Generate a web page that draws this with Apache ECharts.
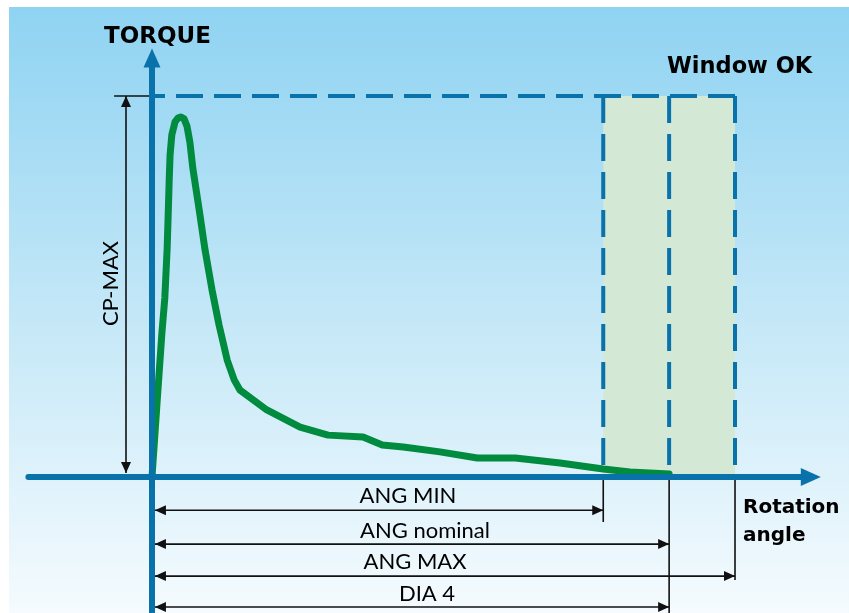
<!DOCTYPE html>
<html><head><meta charset="utf-8">
<script src="https://cdn.jsdelivr.net/npm/echarts@6/dist/echarts.min.js"></script>
<style>html,body{margin:0;padding:0;background:#fff}#c{width:849px;height:613px}</style>
</head><body><div id="c"></div>
<script>
// ---- data (x: rotation angle, ANG MAX = 100; y: torque, CP-MAX = 100) ----
const curveAngle  = [0, 0.9, 1.7, 2.2, 2.6, 2.8, 2.95, 3.1, 3.4, 3.95, 4.45, 4.95, 5.5, 6.0, 6.5, 7.0, 8.1, 9.1, 10.3, 11.5, 12.9, 14.1, 15.1, 19.7, 25.4, 30.2, 36.2, 39.5, 43.1, 49.4, 55.8, 62.3, 70.0, 77.4, 82.0, 88.7];
const curveTorque = [0, 20.2, 37.8, 47.0, 60.0, 70.0, 78.0, 84.5, 89.8, 93.2, 94.2, 94.5, 94.0, 92.1, 87.9, 81.1, 70.1, 59.6, 49.1, 39.9, 30.7, 25.5, 22.8, 17.6, 13.1, 11.0, 10.5, 8.4, 7.9, 6.6, 5.0, 5.0, 3.7, 2.1, 1.3, 0.8];
const angMin = 77.4;
const angNominal = 88.7;
const angMax = 100;
const dia4 = 88.7;
const cpMax = 100;
const dimLabels = ['ANG MIN', 'ANG nominal', 'ANG MAX', 'DIA 4'];

// ---- layout constants ----
const BLUE = '#0a72aa', GREEN = '#008b3e', BLACK = '#111';
const rowY = [-8.7, -17.6, -26.0, -34.1];   // dimension rows below the axis (in y units)
const cpArrowX = -4.46, cpTickX = -6.5;

const chart = echarts.init(document.getElementById('c'), null, {renderer: 'canvas'});

const curve = curveAngle.map((a, i) => [a, curveTorque[i]]);
const dimEnds = [angMin, angNominal, angMax, dia4];

const dimData = [];
dimEnds.forEach((e, i) => dimData.push([0.5, rowY[i], e, rowY[i], 1, 1]));
dimData.push([angMin, 0, angMin, -11.8, 0, 0]);
dimData.push([angNominal, 0, angNominal, -36, 0, 0]);
dimData.push([angMax, 0, angMax, -27.0, 0, 0]);
dimData.push([cpArrowX, cpMax, cpArrowX, 1.05, 1, 1]);
dimData.push([cpTickX, cpMax, 0, cpMax, 0, 0]);

const dashData = [
  [0, cpMax, angMax, cpMax],
  [angMin, cpMax, angMin, 0],
  [angNominal, cpMax, angNominal, 0],
  [angMax, cpMax, angMax, 0]
];

function renderDim(params, api) {
  const p1 = api.coord([api.value(0), api.value(1)]);
  const p2 = api.coord([api.value(2), api.value(3)]);
  const children = [{type: 'line', shape: {x1: p1[0], y1: p1[1], x2: p2[0], y2: p2[1]},
    style: {stroke: BLACK, lineWidth: 1.6}}];
  const dx = p2[0] - p1[0], dy = p2[1] - p1[1], len = Math.hypot(dx, dy) || 1;
  const ux = dx / len, uy = dy / len, nx = -uy, ny = ux;
  const L = 11, W = 5;
  function head(t, sx, sy) {
    return {type: 'polygon', shape: {points: [[t[0], t[1]],
      [t[0] - sx * L + nx * W, t[1] - sy * L + ny * W],
      [t[0] - sx * L - nx * W, t[1] - sy * L - ny * W]]}, style: {fill: BLACK}};
  }
  if (api.value(4)) children.push(head(p1, -ux, -uy));
  if (api.value(5)) children.push(head(p2, ux, uy));
  return {type: 'group', children};
}

function renderDash(params, api) {
  const p1 = api.coord([api.value(0), api.value(1)]);
  const p2 = api.coord([api.value(2), api.value(3)]);
  return {type: 'line', shape: {x1: p1[0], y1: p1[1], x2: p2[0], y2: p2[1]},
    style: {stroke: BLUE, lineWidth: 4, lineDash: [27, 11], lineDashOffset: params.dataIndex === 0 ? 14 : 0}};
}

function renderWindow(params, api) {
  const p1 = api.coord([api.value(0), api.value(1)]);
  const p2 = api.coord([api.value(2), api.value(3)]);
  return {type: 'rect', shape: {x: p1[0], y: p2[1], width: p2[0] - p1[0], height: p1[1] - p2[1]},
    style: {fill: '#d4e8d6'}};
}

const txt = (x, y, text, extra) => Object.assign({type: 'text', x, y, z: 10, silent: true,
  style: Object.assign({text, fill: '#000', align: 'center', verticalAlign: 'middle',
    fontFamily: 'Lato', fontSize: 22}, extra || {})});

const option = {
  backgroundColor: '#ffffff',
  animation: false,
  grid: {left: 28.4, right: 38.2, top: 57.9, bottom: 0.7, containLabel: false},
  xAxis: {type: 'value', min: -21.2, max: 113, z: 6,
    axisLine: {onZero: true, lineStyle: {color: BLUE, width: 6}, symbol: ['none', 'triangle'], symbolSize: [18, 20]},
    axisTick: {show: false}, axisLabel: {show: false}, splitLine: {show: false}},
  yAxis: {type: 'value', min: -35.5, max: 110, z: 6,
    axisLine: {onZero: true, lineStyle: {color: BLUE, width: 6}, symbol: ['none', 'triangle'], symbolSize: [17, 19]},
    axisTick: {show: false}, axisLabel: {show: false}, splitLine: {show: false}},
  series: [
    {type: 'custom', name: 'window', z: 1, silent: true, renderItem: renderWindow,
      data: [[angMin, 0, angMax, cpMax]], clip: false},
    {type: 'custom', name: 'limits', z: 2, silent: true, renderItem: renderDash, data: dashData, clip: false},
    {type: 'line', name: 'torque', z: 3, data: curve, symbol: 'none', silent: true,
      lineStyle: {color: GREEN, width: 7, join: 'round', cap: 'round'}},
    {type: 'custom', name: 'dims', z: 4, silent: true, renderItem: renderDim, data: dimData, clip: false}
  ],
  graphic: {elements: [
    {type: 'rect', z: -10, silent: true, shape: {x: 9, y: 7, width: 840, height: 606},
      style: {fill: new echarts.graphic.LinearGradient(0, 0, 0, 1, [
        {offset: 0, color: '#8fd3f2'}, {offset: 0.5, color: '#c3e7f7'}, {offset: 1, color: '#f5fbfe'}])}},
    txt(157.5, 37.5, 'TORQUE', {fontFamily: 'DejaVu Sans', fontWeight: 'bold', fontSize: 23}),
    txt(667, 67.5, 'Window OK', {fontFamily: 'DejaVu Sans', fontWeight: 'bold', fontSize: 22.5, align: 'left'}),
    txt(743, 522, 'Rotation\nangle', {fontFamily: 'DejaVu Sans', fontWeight: 'bold', fontSize: 20, align: 'left', lineHeight: 28}),
    txt(408, 496, dimLabels[0]),
    txt(425, 530.5, dimLabels[1]),
    txt(415, 562, dimLabels[2]),
    txt(427, 594, dimLabels[3]),
    Object.assign(txt(111, 283.5, 'CP-MAX'), {rotation: Math.PI / 2})
  ]}
};
chart.setOption(option);
</script></body></html>
